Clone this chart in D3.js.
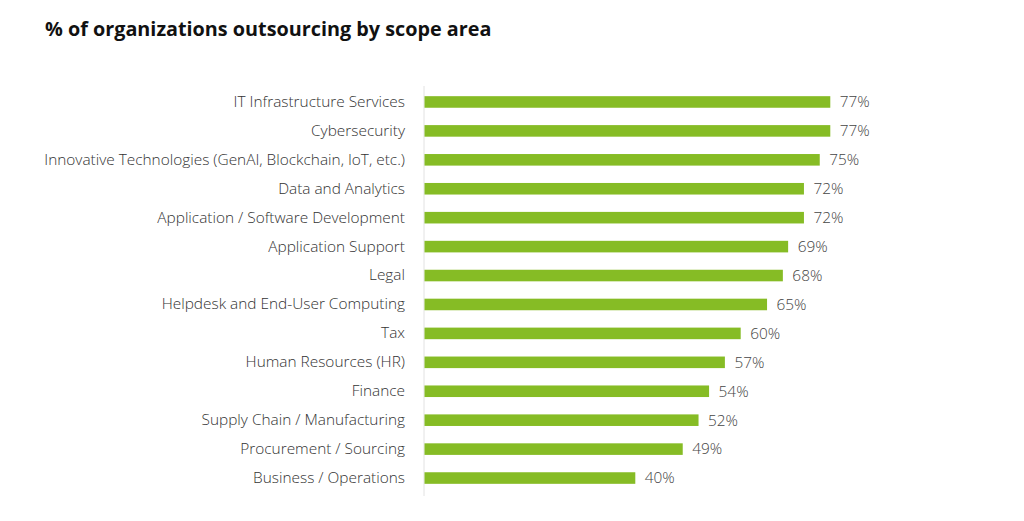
<!DOCTYPE html>
<html>
<head>
<meta charset="utf-8">
<script src="https://cdn.jsdelivr.net/npm/d3@7"></script>
<style>
  body { margin: 0; background: #fff; }
  svg { font-family: "Open Sans", sans-serif; }
</style>
</head>
<body>
<svg width="1024" height="521"></svg>
<script>
// data
const categories = [
  "IT Infrastructure Services",
  "Cybersecurity",
  "Innovative Technologies (GenAI, Blockchain, IoT, etc.)",
  "Data and Analytics",
  "Application / Software Development",
  "Application Support",
  "Legal",
  "Helpdesk and End-User Computing",
  "Tax",
  "Human Resources (HR)",
  "Finance",
  "Supply Chain / Manufacturing",
  "Procurement / Sourcing",
  "Business / Operations"
];
const values = [77, 77, 75, 72, 72, 69, 68, 65, 60, 57, 54, 52, 49, 40];

const title = "% of organizations outsourcing by scope area";

const svg = d3.select("svg");

svg.append("text")
    .attr("x", 45)
    .attr("y", 36)
    .attr("font-size", 19.8)
    .attr("font-weight", 700)
    .attr("fill", "#111")
    .text(title);

const left = 424;

const xScale = d3.scaleLinear()
    .domain([0, 100])
    .range([left, 951]);

// inner padding 0.6, outer half of that so rows sit centered in each step
const yScale = d3.scaleBand()
    .domain(categories)
    .range([87.5, 492.5])
    .paddingInner(0.6)
    .paddingOuter(0.3);

// vertical baseline
svg.append("line")
    .attr("x1", left)
    .attr("x2", left)
    .attr("y1", 86)
    .attr("y2", 496)
    .attr("stroke", "#e2e2e2")
    .attr("stroke-width", 1);

const yAxis = d3.axisLeft(yScale).tickSize(0).tickPadding(19);

const gy = svg.append("g")
    .attr("transform", `translate(${left},0)`)
    .call(yAxis);
gy.select(".domain").remove();
gy.selectAll("text")
    .attr("font-family", "Open Sans, sans-serif")
    .attr("font-size", 15.4)
    .attr("font-weight", 300)
    .attr("fill", "#333");

const rows = categories.map((c, i) => ({ cat: c, val: values[i] }));

svg.selectAll("rect.bar")
    .data(rows)
    .enter().append("rect")
    .attr("class", "bar")
    .attr("x", xScale(0) + 0.5)
    .attr("y", d => yScale(d.cat))
    .attr("width", d => xScale(d.val) - xScale(0))
    .attr("height", yScale.bandwidth())
    .attr("fill", "#86bc25");

svg.selectAll("text.val")
    .data(rows)
    .enter().append("text")
    .attr("class", "val")
    .attr("x", d => xScale(d.val) + 10)
    .attr("y", d => yScale(d.cat) + yScale.bandwidth() / 2)
    .attr("dy", "0.35em")
    .attr("font-size", 15.4)
    .attr("font-weight", 300)
    .attr("fill", "#444")
    .text(d => d.val + "%");
</script>
</body>
</html>
